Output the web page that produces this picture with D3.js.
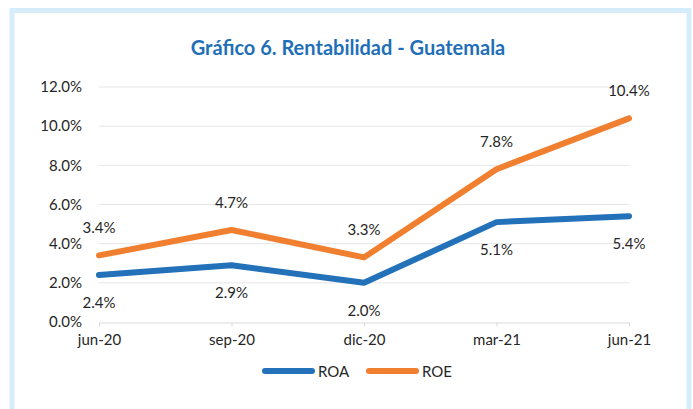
<!DOCTYPE html>
<html lang="es">
<head>
<meta charset="UTF-8">
<title>Rentabilidad - Guatemala</title>
<script src="https://cdn.jsdelivr.net/npm/d3@7"></script>
<style>
  body { margin: 0; background: #fff; }
  text { font-family: Lato, "Open Sans", sans-serif; fill: #262626; }
</style>
</head>
<body>
<script>
    var width = 693, height = 409;

    var categories = ["jun-20", "sep-20", "dic-20", "mar-21", "jun-21"];
    var roa = [2.4, 2.9, 2.0, 5.1, 5.4];
    var roe = [3.4, 4.7, 3.3, 7.8, 10.4];
    var yTicks = [0, 2, 4, 6, 8, 10, 12];

    var series = [
        {name: "ROA", values: roa, color: "#2271b9", labelDy: 33},
        {name: "ROE", values: roe, color: "#f07f30", labelDy: -22}
    ];

    var svg = d3.select("body").append("svg")
        .attr("width", width)
        .attr("height", height);

    // light blue frame
    svg.append("rect")
        .attr("x", 12).attr("y", 10.5)
        .attr("width", 677).attr("height", 410)
        .attr("fill", "#fff")
        .attr("stroke", "#d5ecfb")
        .attr("stroke-width", 5);

    svg.append("text")
        .attr("x", 348).attr("y", 55)
        .attr("text-anchor", "middle")
        .style("font-size", "20px")
        .style("font-weight", "bold")
        .style("fill", "#1f6fb8")
        .text("Gráfico 6. Rentabilidad - Guatemala");

    var x = d3.scalePoint().domain(categories).range([99, 629]);
    var y = d3.scaleLinear().domain([0, 12]).range([322, 87]);

    // gridlines
    svg.append("g").selectAll("line")
        .data(yTicks.slice(1))
        .join("line")
        .attr("x1", 99).attr("x2", 629)
        .attr("y1", function(d) { return y(d); })
        .attr("y2", function(d) { return y(d); })
        .attr("stroke", "#e6e6e6")
        .attr("stroke-width", 1);

    var yAxis = svg.append("g")
        .attr("transform", "translate(99,0)")
        .call(d3.axisLeft(y).tickValues(yTicks).tickSize(0).tickPadding(17)
            .tickFormat(function(d) { return d.toFixed(1) + "%"; }));
    yAxis.select(".domain").remove();
    yAxis.selectAll("text").style("font-size", "15px").style("fill", "#262626");

    var xAxis = svg.append("g")
        .attr("transform", "translate(0,322.5)")
        .call(d3.axisBottom(x).tickSize(4).tickPadding(8));
    xAxis.select(".domain").attr("stroke", "#d9d9d9");
    xAxis.selectAll(".tick line").attr("stroke", "#d9d9d9");
    xAxis.selectAll("text").style("font-size", "15px").style("fill", "#262626");

    var line = d3.line()
        .x(function(d, i) { return x(categories[i]); })
        .y(function(d) { return y(d); });

    series.forEach(function(s) {
        svg.append("path")
            .datum(s.values)
            .attr("d", line)
            .attr("fill", "none")
            .attr("stroke", s.color)
            .attr("stroke-width", 6)
            .attr("stroke-linecap", "round")
            .attr("stroke-linejoin", "round");

        svg.append("g").selectAll("text")
            .data(s.values)
            .join("text")
            .attr("x", function(d, i) { return x(categories[i]); })
            .attr("y", function(d) { return y(d) + s.labelDy; })
            .attr("text-anchor", "middle")
            .style("font-size", "15px")
            .text(function(d) { return d.toFixed(1) + "%"; });
    });

    // legend
    var legend = svg.append("g").selectAll("g")
        .data(series)
        .join("g")
        .attr("transform", function(d, i) { return "translate(" + (265 + i * 104) + ",371)"; });
    legend.append("line")
        .attr("x1", 0).attr("x2", 47)
        .attr("stroke", function(d) { return d.color; })
        .attr("stroke-width", 6)
        .attr("stroke-linecap", "round");
    legend.append("text")
        .attr("x", 53).attr("y", 5.5)
        .style("font-size", "15px")
        .text(function(d) { return d.name; });
</script>
</body>
</html>
